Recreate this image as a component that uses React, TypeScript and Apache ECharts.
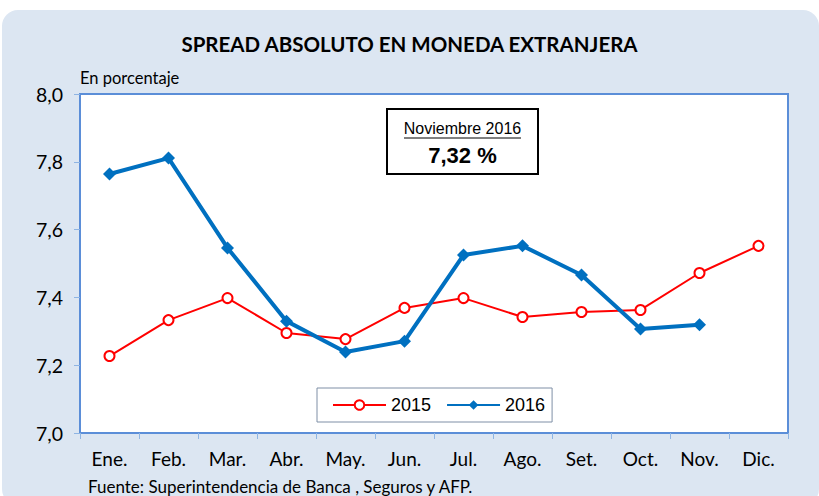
import React, { useEffect, useRef } from "react";
import * as echarts from "echarts";

const categories = ["Ene.", "Feb.", "Mar.", "Abr.", "May.", "Jun.", "Jul.", "Ago.", "Set.", "Oct.", "Nov.", "Dic."];
const series2015 = [7.227, 7.333, 7.398, 7.295, 7.277, 7.369, 7.398, 7.342, 7.357, 7.363, 7.472, 7.552];
const series2016 = [7.764, 7.811, 7.546, 7.33, 7.239, 7.271, 7.525, 7.552, 7.466, 7.307, 7.319, null];
const yTicks = { min: 7, max: 8, interval: 0.2 };
const titleText = "SPREAD ABSOLUTO EN MONEDA EXTRANJERA";
const unitText = "En porcentaje";
const sourceText = "Fuente: Superintendencia de Banca , Seguros y AFP.";
const boxTitle = "Noviembre 2016";
const boxValue = "7,32 %";

const CAL = "Lato, 'Open Sans', sans-serif";
const ARIAL = "'Liberation Sans', Arial, sans-serif";

export default function App() {
  const ref = useRef<HTMLDivElement>(null);
  useEffect(() => {
    if (!ref.current) return;
    const chart = echarts.init(ref.current, undefined, { renderer: "svg" });
    chart.setOption({
      animation: false,
      backgroundColor: "#ffffff",
      title: {
        text: titleText,
        left: "center",
        top: 28,
        textStyle: { fontFamily: CAL, fontSize: 20.5, fontWeight: "bold", color: "#000" },
      },
      graphic: [
        {
          type: "rect",
          z: -10,
          silent: true,
          shape: { x: 2, y: 10, width: 817, height: 495, r: 16 },
          style: { fill: "#dce6f2" },
        },
        {
          type: "text",
          left: 80,
          top: 69,
          style: { text: unitText, font: `16.5px ${CAL}`, fill: "#000" },
        },
        {
          type: "text",
          left: 88,
          top: 478,
          style: { text: sourceText, font: `17px ${CAL}`, fill: "#000" },
        },
        {
          type: "group",
          left: 386,
          top: 108,
          children: [
            {
              type: "rect",
              shape: { x: 0, y: 0, width: 151, height: 65 },
              style: { fill: "#fff", stroke: "#000", lineWidth: 2 },
            },
            {
              type: "text",
              x: 75.5,
              y: 19,
              style: { text: boxTitle, font: `16px ${ARIAL}`, fill: "#000", align: "center", verticalAlign: "middle" },
            },
            {
              type: "line",
              shape: { x1: 17, y1: 29, x2: 134, y2: 29 },
              style: { stroke: "#000", lineWidth: 1 },
            },
            {
              type: "text",
              x: 75.5,
              y: 46,
              style: { text: boxValue, font: `bold 22px ${ARIAL}`, fill: "#000", align: "center", verticalAlign: "middle" },
            },
          ],
        },
      ],
      legend: {
        left: 317,
        top: 388,
        itemWidth: 53,
        itemHeight: 12,
        itemGap: 15,
        padding: [8, 7, 8, 15],
        backgroundColor: "#fff",
        borderColor: "#7f8fa6",
        borderWidth: 1,
        textStyle: { fontFamily: ARIAL, fontSize: 18, color: "#000" },
        data: ["2015", "2016"],
      },
      grid: {
        left: 80,
        right: 31,
        top: 94,
        bottom: 63,
        show: true,
        backgroundColor: "#fff",
        borderColor: "#5b8ed8",
        borderWidth: 2,
      },
      xAxis: {
        type: "category",
        data: categories,
        boundaryGap: true,
        axisLine: { lineStyle: { color: "#5b8ed8", width: 2 } },
        axisTick: { show: true, length: 6, lineStyle: { color: "#8eb4e3", width: 1 } },
        axisLabel: { margin: 16, fontFamily: CAL, fontSize: 19, color: "#000" },
      },
      yAxis: {
        type: "value",
        min: yTicks.min,
        max: yTicks.max,
        interval: yTicks.interval,
        splitLine: { show: false },
        axisLine: { show: true, lineStyle: { color: "#5b8ed8", width: 2 } },
        axisTick: { show: true, length: 6, lineStyle: { color: "#8eb4e3", width: 1 } },
        axisLabel: {
          margin: 17,
          fontFamily: CAL,
          fontSize: 19.5,
          color: "#000",
          formatter: (v: number) => v.toFixed(1).replace(".", ","),
        },
      },
      series: [
        {
          name: "2015",
          type: "line",
          data: series2015,
          symbol: "circle",
          symbolSize: 10,
          lineStyle: { color: "#ff0000", width: 2 },
          itemStyle: { color: "#fff", borderColor: "#ff0000", borderWidth: 2 },
          z: 2,
        },
        {
          name: "2016",
          type: "line",
          data: series2016,
          symbol: "diamond",
          symbolSize: 13,
          lineStyle: { color: "#0070c0", width: 4 },
          itemStyle: { color: "#0070c0" },
          z: 3,
        },
      ],
    });
    return () => chart.dispose();
  }, []);
  return (
    <div
      ref={ref}
      style={{ position: "absolute", left: 0, top: 0, width: 819, height: 496 }}
    />
  );
}
